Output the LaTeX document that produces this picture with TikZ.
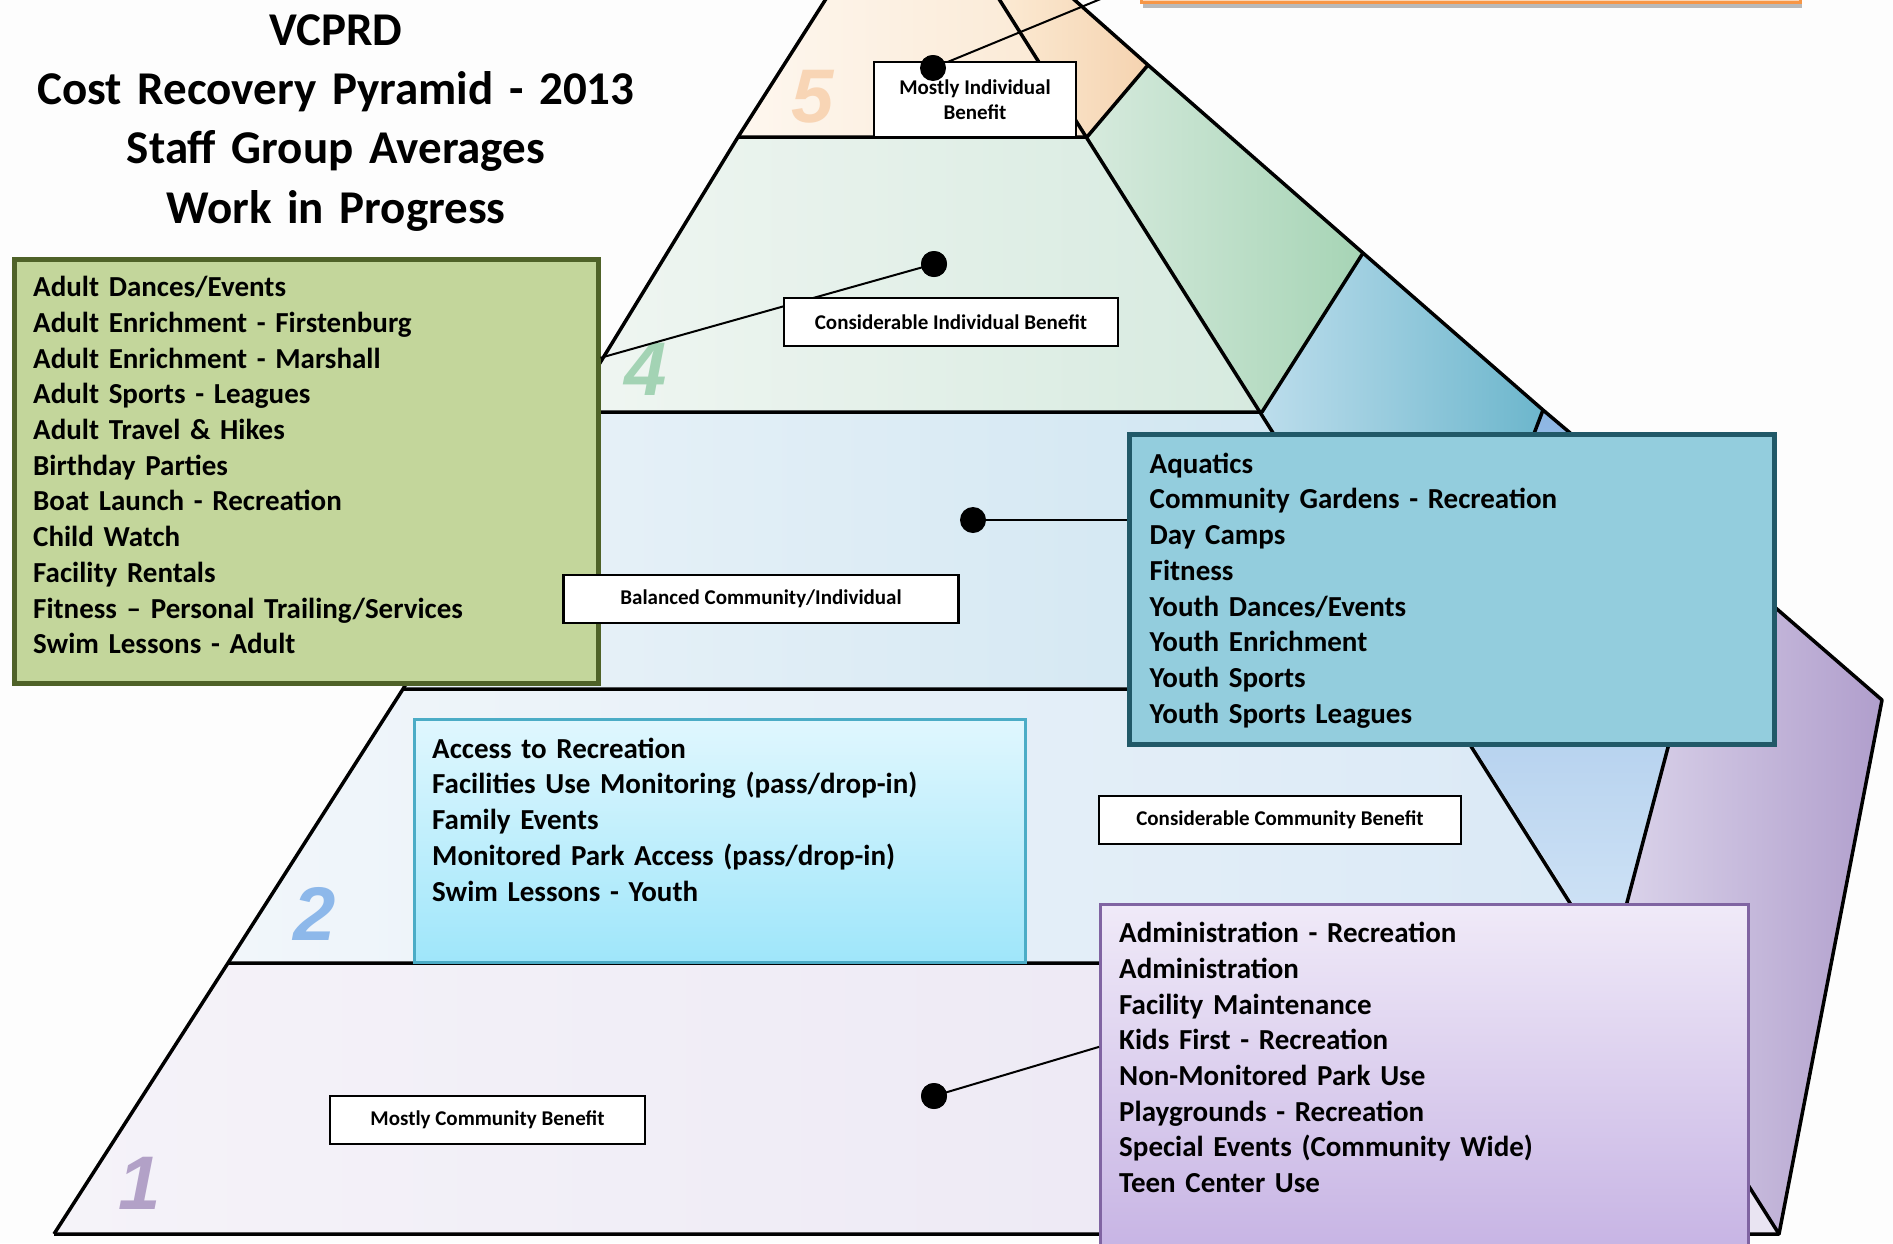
\documentclass[tikz,border=0pt]{standalone}
\usepackage{fontspec}
\setmainfont{Carlito}
\newfontfamily\numfont{Liberation Sans}
\usetikzlibrary{calc}
\definecolor{bgc}{HTML}{FDFDFD}
\definecolor{greenF}{HTML}{C3D69B}
\definecolor{greenB}{HTML}{4F6228}
\definecolor{tealF}{HTML}{93CDDD}
\definecolor{tealB}{HTML}{215968}
\definecolor{cyanB}{HTML}{4BACC6}
\definecolor{cyanT}{HTML}{E0F7FE}
\definecolor{cyanBo}{HTML}{9FE6FA}
\definecolor{purpB}{HTML}{8064A2}
\definecolor{purpT}{HTML}{F0EAF8}
\definecolor{purpBo}{HTML}{C7B4E4}
\definecolor{orangeB}{HTML}{F79646}
\definecolor{orangeF}{HTML}{FCD5B4}
\definecolor{numfive}{HTML}{F8D5B5}
\definecolor{numfour}{HTML}{A3D3B4}
\definecolor{numtwo}{HTML}{8DB8EA}
\definecolor{numone}{HTML}{B2A1C7}
\begin{document}
\begin{tikzpicture}[x=1pt,y=-1pt,
  edge/.style={draw=black,line width=3.5pt,line join=round},
  conn/.style={draw=black,line width=2pt},
  dot/.style={circle,fill=black,inner sep=0pt,minimum size=26pt},
  lbl/.style={draw=black,line width=2.5pt,fill=white,inner sep=0pt,
    font=\fontsize{21}{25}\selectfont\bfseries,align=center},
  listtxt/.style={anchor=north west,inner sep=0pt,align=left,text width=640pt,
    font=\fontsize{29}{35.7}\selectfont\bfseries},
  num/.style={inner sep=0pt,font=\fontsize{76}{76}\selectfont\numfont\bfseries\itshape},
  titletxt/.style={anchor=north,inner sep=0pt,align=center,text width=700pt,
    font=\fontsize{47}{59.3}\selectfont\bfseries}]
\useasboundingbox (0,0) rectangle (1893,1243);
\fill[bgc] (0,0) rectangle (1893,1243);

% pyramid geometry
\coordinate (L0) at (54,1234);  \coordinate (R0) at (1779,1234);
\coordinate (L1) at (228,963);  \coordinate (R1) at (1611,963);
\coordinate (L2) at (403,689);  \coordinate (R2) at (1437,689);
\coordinate (L3) at (570,412);  \coordinate (R3) at (1262,412);
\coordinate (L4) at (738,137);  \coordinate (R4) at (1087,137);
\coordinate (LT) at (838,-20);  \coordinate (RT) at (987,-20);
\coordinate (OT) at (1052,-20); \coordinate (O4) at (1148,65);
\coordinate (O3) at (1363,253); \coordinate (O2) at (1543,410);
\coordinate (O1) at (1718,558); \coordinate (O0) at (1882,700);

\begin{scope}
\clip (0,0) rectangle (1893,1243);
% layer 1
\path[left color={rgb,255:red,245;green,243;blue,249},right color={rgb,255:red,233;green,228;blue,242}] (L0) -- (L1) -- (R1) -- (R0) -- cycle;
\path[left color={rgb,255:red,220;green,213;blue,235},right color={rgb,255:red,176;green,158;blue,204}] (R1) -- (O1) -- (O0) -- (R0) -- cycle;
% layer 2
\path[left color={rgb,255:red,241;green,246;blue,250},right color={rgb,255:red,218;green,233;blue,246}] (L1) -- (L2) -- (R2) -- (R1) -- cycle;
\path[top color={rgb,255:red,141;green,182;blue,227},bottom color={rgb,255:red,212;green,230;blue,247}] (R2) -- (O2) -- (O1) -- (R1) -- cycle;
% layer 3
\path[left color={rgb,255:red,235;green,243;blue,249},right color={rgb,255:red,204;green,228;blue,240}] (L2) -- (L3) -- (R3) -- (R2) -- cycle;
\path[left color={rgb,255:red,188;green,221;blue,236},right color={rgb,255:red,108;green,182;blue,204}] (R3) -- (O3) -- (O2) -- (R2) -- cycle;
% layer 4
\path[left color={rgb,255:red,240;green,246;blue,242},right color={rgb,255:red,214;green,234;blue,223}] (L3) -- (L4) -- (R4) -- (R3) -- cycle;
\path[left color={rgb,255:red,214;green,234;blue,221},right color={rgb,255:red,166;green,212;blue,181}] (R4) -- (O4) -- (O3) -- (R3) -- cycle;
% layer 5
\path[left color={rgb,255:red,254;green,247;blue,239},right color={rgb,255:red,250;green,232;blue,210}] (L4) -- (LT) -- (RT) -- (R4) -- cycle;
\path[left color={rgb,255:red,252;green,236;blue,214},right color={rgb,255:red,245;green,211;blue,176}] (RT) -- (R4) -- (O4) -- (OT) -- cycle;
% outlines
\draw[edge] (L0) -- (L1) -- (L2) -- (L3) -- (L4) -- (LT);
\draw[edge] (R0) -- (RT);
\draw[edge] (OT) -- (O4) -- (O3) -- (O2) -- (O1) -- (O0) -- (R0) -- (L0);
\draw[edge] (L1) -- (R1) -- (O1);
\draw[edge] (L2) -- (R2) -- (O2);
\draw[edge] (L3) -- (R3) -- (O3);
\draw[edge] (L4) -- (R4) -- (O4);
\end{scope}

% layer numbers
\node[num,text=numfive] (n5) at (813,97) {5};
\node[num,text=numfour] (n4) at (646,369) {4};
\node[num,text=numtwo] (n2) at (315,914) {2};
\node[num,text=numone] (n1) at (140,1183) {1};

% orange box at top (mostly outside)
\fill[gray!55] (1143,2) rectangle (1802,8);
\node[draw=orangeB,line width=3pt,fill=orangeF,minimum width=659pt,minimum height=38pt,inner sep=0pt] (ob) at (1470.5,-17) {};

% big boxes (shapes)
\node[draw=greenB,line width=5pt,fill=greenF,minimum width=584pt,minimum height=424pt,inner sep=0pt,anchor=north west] (gb) at (11.5,257) {};
\node[draw=tealB,line width=5pt,fill=tealF,minimum width=645pt,minimum height=310pt,inner sep=0pt,anchor=north west] (tb) at (1127,432) {};

% dots
\node[dot] (d5) at (933,68) {};
\node[dot] (d4) at (934,264) {};
\node[dot] (d3) at (973,520) {};
\node[dot] (d1) at (934,1096) {};

% connectors
\draw[conn] (d5.center) -- (ob.west);
\draw[conn] (d4.center) -- ($(gb.north east)!0.235!(gb.south east)$);
\draw[conn] (d3.center) -- (d3 -| tb.west);

% label boxes
\node[lbl,minimum width=202pt,minimum height=75pt] (lb5) at (975,99.5) {Mostly Individual\\Benefit};
\node[lbl,minimum width=334pt,minimum height=48pt] (lb4) at (951,322) {Considerable Individual Benefit};
\node[lbl,minimum width=395pt,minimum height=48pt] (lb3) at (761,599) {Balanced Community/Individual};
\node[lbl,minimum width=362pt,minimum height=48pt] (lb2) at (1280,820) {Considerable Community Benefit};
\node[lbl,minimum width=315pt,minimum height=48pt] (lb1) at (487.5,1120) {Mostly Community Benefit};

% redraw dots above boxes
\node[dot] at (d5) {};
\node[dot] at (d4) {};

% cyan and purple boxes
\node[draw=cyanB,line width=2.5pt,top color=cyanT,bottom color=cyanBo,minimum width=611pt,minimum height=243pt,inner sep=0pt,anchor=north west] (cb) at (413,718) {};
\node[draw=purpB,line width=2.5pt,top color=purpT,bottom color=purpBo,minimum width=648pt,minimum height=345pt,inner sep=0pt,anchor=north west] (pb) at (1099,903) {};
\draw[conn] (d1.center) -- ($(pb.north west)!0.414!(pb.south west)$);
\node[dot] at (d1) {};

% list texts
\node[listtxt] (gt) at (33,271.5) {\rule{0pt}{25pt}Adult Dances/Events\\
Adult Enrichment - Firstenburg\\
Adult Enrichment - Marshall\\
Adult Sports - Leagues\\
Adult Travel \& Hikes\\
Birthday Parties\\
Boat Launch - Recreation\\
Child Watch\\
Facility Rentals\\
Fitness – Personal Trailing/Services\\
Swim Lessons - Adult};
\node[listtxt] (tt) at (1149.5,448) {\rule{0pt}{25pt}Aquatics\\
Community Gardens - Recreation\\
Day Camps\\
Fitness\\
Youth Dances/Events\\
Youth Enrichment\\
Youth Sports\\
Youth Sports Leagues};
\node[listtxt] (ct) at (432,733) {\rule{0pt}{25pt}Access to Recreation\\
Facilities Use Monitoring (pass/drop-in)\\
Family Events\\
Monitored Park Access (pass/drop-in)\\
Swim Lessons - Youth};
\node[listtxt] (pt) at (1119,917.5) {\rule{0pt}{25pt}Administration - Recreation\\
Administration\\
Facility Maintenance\\
Kids First - Recreation\\
Non-Monitored Park Use\\
Playgrounds - Recreation\\
Special Events (Community Wide)\\
Teen Center Use};

% title
\node[titletxt] (title) at (336,5) {\rule{0pt}{40pt}VCPRD\\
Cost Recovery Pyramid - 2013\\
Staff Group Averages\\
Work in Progress};
\end{tikzpicture}
\end{document}
